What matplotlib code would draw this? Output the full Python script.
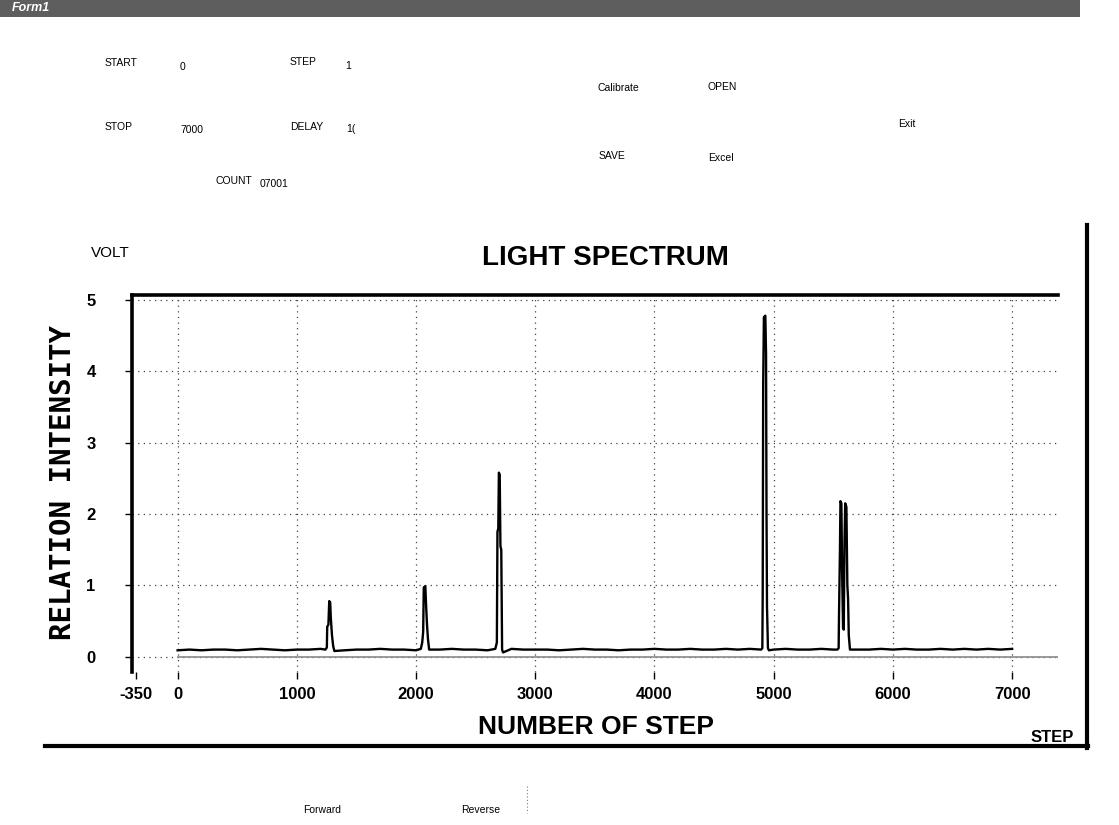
import numpy as np
import matplotlib
matplotlib.use("Agg")
import matplotlib.pyplot as plt
from matplotlib.lines import Line2D
from matplotlib.patches import Rectangle

W, H = 1119, 825

# baseline readings every 100 steps (volt)
base_steps = list(range(0, 7001, 100))
base_volts = [
    0.09, 0.10, 0.09, 0.10, 0.10, 0.09, 0.10, 0.11, 0.10, 0.09,
    0.10, 0.10, 0.11, 0.10, 0.09, 0.10, 0.10, 0.11, 0.10, 0.10,
    0.09, 0.10, 0.10, 0.11, 0.10, 0.10, 0.09, 0.10, 0.11, 0.10,
    0.10, 0.10, 0.09, 0.10, 0.11, 0.10, 0.10, 0.09, 0.10, 0.10,
    0.11, 0.10, 0.10, 0.11, 0.10, 0.10, 0.11, 0.10, 0.11, 0.10,
    0.10, 0.11, 0.10, 0.10, 0.11, 0.10, 0.11, 0.10, 0.10, 0.11,
    0.10, 0.11, 0.10, 0.10, 0.11, 0.10, 0.11, 0.10, 0.11, 0.10, 0.11,
]

# peaks
peak1_steps = [1240, 1252, 1255, 1265, 1272, 1280, 1285, 1295, 1305, 1315]
peak1_volts = [0.10, 0.13, 0.42, 0.45, 0.78, 0.76, 0.55, 0.30, 0.15, 0.08]

peak2_steps = [2040, 2052, 2060, 2065, 2078, 2085, 2092, 2100, 2110]
peak2_volts = [0.11, 0.20, 0.35, 0.97, 0.99, 0.70, 0.45, 0.25, 0.10]

peak3_steps = [2665, 2678, 2683, 2690, 2695, 2702, 2708, 2715, 2722, 2730]
peak3_volts = [0.11, 0.20, 1.75, 1.80, 2.58, 2.55, 1.55, 1.50, 0.10, 0.06]

peak4_steps = [4895, 4905, 4908, 4912, 4918, 4930, 4936, 4940, 4944, 4952, 4960]
peak4_volts = [0.10, 0.12, 0.86, 3.80, 4.76, 4.78, 4.25, 2.00, 0.70, 0.12, 0.09]

peak5_steps = [5535, 5545, 5548, 5556, 5560, 5568, 5574, 5582, 5588,
               5594, 5600, 5610, 5618, 5624, 5630, 5640]
peak5_volts = [0.10, 0.12, 0.58, 1.50, 2.18, 2.15, 1.20, 0.40, 0.38,
               1.60, 2.15, 2.10, 1.00, 0.82, 0.30, 0.10]

x_ticks = [-350, 0, 1000, 2000, 3000, 4000, 5000, 6000, 7000]
y_ticks = [0, 1, 2, 3, 4, 5]


def build_spectrum():
    peaks = [
        (peak1_steps, peak1_volts),
        (peak2_steps, peak2_volts),
        (peak3_steps, peak3_volts),
        (peak4_steps, peak4_volts),
        (peak5_steps, peak5_volts),
    ]
    steps = np.array(base_steps, dtype=float)
    volts = np.array(base_volts)
    keep = np.ones(len(steps), dtype=bool)
    for ps, _ in peaks:
        keep &= ~((steps >= ps[0]) & (steps <= ps[-1]))
    all_s = [steps[keep]] + [np.array(ps, dtype=float) for ps, _ in peaks]
    all_v = [volts[keep]] + [np.array(pv) for _, pv in peaks]
    s = np.concatenate(all_s)
    v = np.concatenate(all_v)
    order = np.argsort(s)
    return s[order], v[order]


def px_text(fig, x, y, s, **kw):
    fig.text(x / W, 1 - y / H, s, **kw)


def main():
    fig = plt.figure(figsize=(W / 100, H / 100), dpi=100)
    fig.patch.set_facecolor("white")

    # title bar of the form
    fig.patches.append(Rectangle((0, 1 - 17 / H), 1080 / W, 17 / H,
                                 transform=fig.transFigure,
                                 facecolor="#5e5e5e", edgecolor="none"))
    px_text(fig, 12, 8, "Form1", color="white", fontsize=9, style="italic",
            fontweight="bold", va="center", family="Liberation Sans")

    ctl = dict(fontsize=7.5, family="Liberation Sans", va="center", ha="left")
    px_text(fig, 105, 63, "START", **ctl)
    px_text(fig, 180, 67, "0", **ctl)
    px_text(fig, 290, 62, "STEP", **ctl)
    px_text(fig, 345, 66, "1", **ctl)
    px_text(fig, 105, 127, "STOP", **ctl)
    px_text(fig, 180, 130, "7000", **ctl)
    px_text(fig, 290, 127, "DELAY", **ctl)
    px_text(fig, 346, 129, "1(", **ctl)
    px_text(fig, 216, 181, "COUNT", **ctl)
    px_text(fig, 260, 184, "07001", **ctl)
    px_text(fig, 597, 88, "Calibrate", **ctl)
    px_text(fig, 708, 87, "OPEN", **ctl)
    px_text(fig, 898, 124, "Exit", **ctl)
    px_text(fig, 599, 156, "SAVE", **ctl)
    px_text(fig, 708, 158, "Excel", **ctl)
    px_text(fig, 303, 810, "Forward", **ctl)
    px_text(fig, 461, 810, "Reverse", **ctl)

    # chart frame (right and bottom edges)
    fig.add_artist(Line2D([45 / W, 1088 / W], [1 - 746 / H, 1 - 746 / H],
                          transform=fig.transFigure, color="black", lw=3))
    fig.add_artist(Line2D([1087 / W, 1087 / W], [1 - 225 / H, 1 - 748 / H],
                          transform=fig.transFigure, color="black", lw=3))
    fig.add_artist(Line2D([527 / W, 527 / W], [1 - 786 / H, 1 - 813 / H],
                          transform=fig.transFigure, color="#777", lw=0.8,
                          linestyle=(0, (1, 2))))

    ax = fig.add_axes([131.7 / W, 1 - 671.7 / H, (1058 - 131.7) / W,
                       (671.7 - 295) / H])
    steps, volts = build_spectrum()

    ax.plot([0, 7385], [0, 0], color="#8a8a8a", lw=1.2, zorder=2)
    ax.plot(steps, volts, color="black", lw=1.7, zorder=3)

    ax.set_xlim(-385, 7385)
    ax.set_ylim(-0.21, 5.07)

    for s in ["right", "bottom"]:
        ax.spines[s].set_visible(False)
    ax.spines["left"].set_linewidth(2.6)
    ax.spines["top"].set_linewidth(2.6)

    for xv in x_ticks[1:]:
        ax.axvline(xv, color="#444", lw=0.9, linestyle=(0, (1, 3.5)), zorder=1)
    for yv in y_ticks:
        ax.axhline(yv, color="#444", lw=0.9, linestyle=(0, (1, 3.5)), zorder=1)

    ax.set_xticks(x_ticks)
    ax.set_yticks(y_ticks)
    ax.set_xticklabels([str(t) for t in x_ticks], fontsize=12,
                       fontweight="bold", family="Liberation Sans")
    ax.set_yticklabels([str(t) for t in y_ticks], fontsize=12,
                       fontweight="bold", family="Liberation Sans")
    ax.tick_params(axis="x", length=5, width=1, pad=6, direction="out")
    ax.tick_params(axis="y", length=5, width=1, pad=21, direction="out")

    px_text(fig, 110, 253, "VOLT", fontsize=11, family="Liberation Sans",
            ha="center", va="center")
    px_text(fig, 605, 258, "LIGHT SPECTRUM", fontsize=20, fontweight="bold",
            family="Liberation Sans", ha="center", va="center")
    px_text(fig, 596, 727, "NUMBER OF STEP", fontsize=19, fontweight="bold",
            family="Liberation Sans", ha="center", va="center")
    px_text(fig, 1052, 737, "STEP", fontsize=12, fontweight="bold",
            family="Liberation Sans", ha="center", va="center")
    px_text(fig, 63, 482, "RELATION INTENSITY", fontsize=21, fontweight="bold",
            family="DejaVu Sans Mono", rotation=90, ha="center", va="center")

    fig.savefig("out.png", dpi=100)


if __name__ == "__main__":
    main()
